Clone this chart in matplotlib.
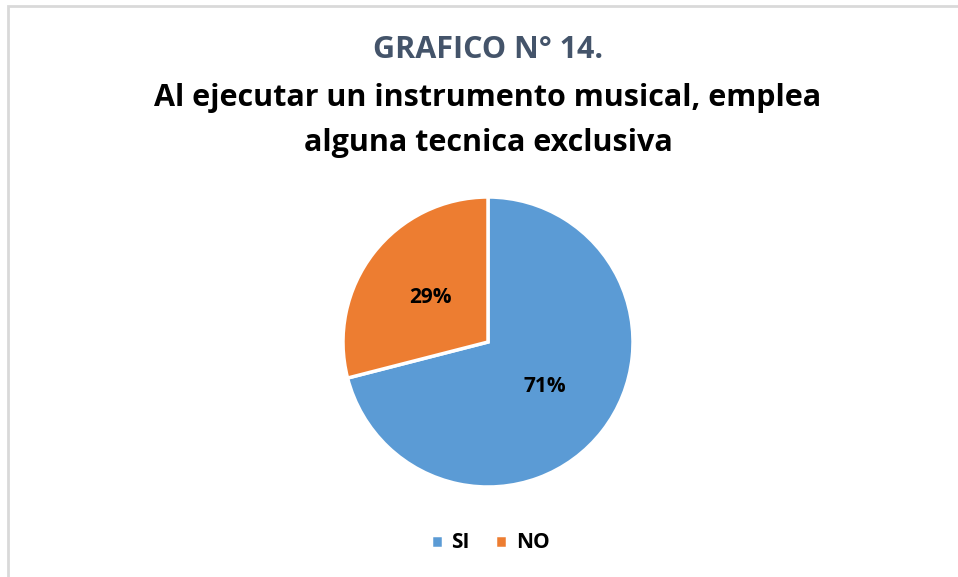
import matplotlib.pyplot as plt
from matplotlib.patches import Rectangle

# Data
categories = ['SI', 'NO']
values = [71, 29]
colors = ['#5B9BD5', '#ED7D31']

W, H = 958, 577
fig = plt.figure(figsize=(W / 100, H / 100), dpi=100)

# Chart border (light gray)
fig.add_artist(Rectangle((8 / W, -0.01), 1.02, 1 - 6 / H + 0.01, transform=fig.transFigure,
                         fill=False, edgecolor='#D9D9D9', linewidth=2))

# Titles
fig.text(488 / W, 1 - 50 / H, 'GRAFICO N° 14.', ha='center', va='center',
         fontsize=22, fontweight='bold', color='#44546A', family='Open Sans')
fig.text(488 / W, 1 - 98 / H, 'Al ejecutar un instrumento musical, emplea', ha='center', va='center',
         fontsize=22, fontweight='bold', color='black', family='Open Sans')
fig.text(488 / W, 1 - 143 / H, 'alguna tecnica exclusiva', ha='center', va='center',
         fontsize=22, fontweight='bold', color='black', family='Open Sans')

# Pie axes: centre (488, 342), radius 145 px
r = 145
ax = fig.add_axes([(488 - r) / W, 1 - (342 + r) / H, 2 * r / W, 2 * r / H])
wedges, texts, autotexts = ax.pie(values, colors=colors, startangle=90, counterclock=False,
                                  autopct='%1.0f%%', pctdistance=0.5,
                                  wedgeprops=dict(edgecolor='white', linewidth=2.5))
for t in autotexts:
    t.set_fontsize(15)
    t.set_fontweight('bold')
    t.set_family('Open Sans')
ax.set_xlim(-1, 1)
ax.set_ylim(-1, 1)
ax.set_aspect('equal')

# Legend
fig.legend(wedges, categories, loc='center', bbox_to_anchor=(490 / W, 1 - 543 / H), ncol=2,
           frameon=False, handlelength=0.6, handleheight=0.6, handletextpad=0.4, columnspacing=1.2,
           prop={'family': 'Open Sans', 'weight': 'bold', 'size': 15})

fig.savefig('out.png', dpi=100)
